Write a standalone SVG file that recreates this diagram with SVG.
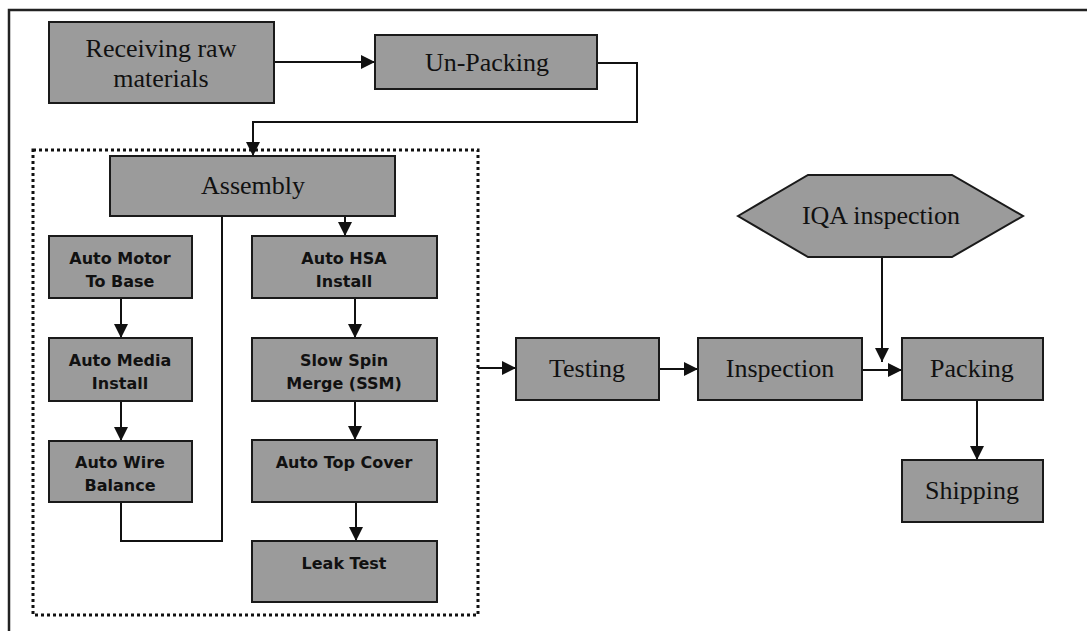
<svg xmlns="http://www.w3.org/2000/svg" width="1087" height="631" viewBox="0 0 1087 631">
<defs>
<marker id="ah" markerWidth="14" markerHeight="14" refX="14" refY="7" orient="auto" markerUnits="userSpaceOnUse">
<path d="M0,0 L14,7 L0,14 Z" fill="#111"/>
</marker>
<style>
.box{fill:#9b9b9b;stroke:#1a1a1a;stroke-width:2}
.st{font-family:"Liberation Serif",serif;font-size:26px;fill:#111;text-anchor:middle}
.bt{font-family:"DejaVu Sans",sans-serif;font-weight:bold;font-size:16px;fill:#111;text-anchor:middle}
.ln{fill:none;stroke:#111;stroke-width:2}
</style>
</defs>
<rect width="1087" height="631" fill="#fff"/>
<g id="frame">
<path d="M9,631 L9,10 L1087,10" fill="none" stroke="#222" stroke-width="2.5"/>
<rect x="33" y="150" width="445" height="465" fill="none" stroke="#111" stroke-width="3" stroke-dasharray="3 3"/>
</g>
<g id="connectors">
<path class="ln" d="M274,62 L375,62" marker-end="url(#ah)"/>
<path class="ln" d="M597,63 L637,63 L637,122 L253,122 L253,156" marker-end="url(#ah)"/>
<path class="ln" d="M222,216 L222,541 L121,541 L121,502"/>
<path class="ln" d="M345,216 L345,236" marker-end="url(#ah)"/>
<path class="ln" d="M121,298 L121,338" marker-end="url(#ah)"/>
<path class="ln" d="M121,401 L121,441" marker-end="url(#ah)"/>
<path class="ln" d="M355,298 L355,338" marker-end="url(#ah)"/>
<path class="ln" d="M355,401 L355,440" marker-end="url(#ah)"/>
<path class="ln" d="M356,495 L356,541" marker-end="url(#ah)"/>
<path class="ln" d="M478,368 L516,368" marker-end="url(#ah)"/>
<path class="ln" d="M659,369 L698,369" marker-end="url(#ah)"/>
<path class="ln" d="M862,370 L902,370" marker-end="url(#ah)"/>
<path class="ln" d="M882,257 L882,362" marker-end="url(#ah)"/>
<path class="ln" d="M977,400 L977,460" marker-end="url(#ah)"/>
</g>
<g id="receiving">
<rect class="box" x="49" y="22" width="225" height="81"/>
<text class="st" x="161" y="57">Receiving raw</text>
<text class="st" x="161" y="87">materials</text>
</g>
<g id="unpacking">
<rect class="box" x="375" y="35" width="222" height="54"/>
<text class="st" x="487" y="71">Un-Packing</text>
</g>
<g id="assembly">
<rect class="box" x="110" y="156" width="285" height="60"/>
<text class="st" x="253" y="194">Assembly</text>
</g>
<g id="motor">
<rect class="box" x="49" y="236" width="143" height="62"/>
<text class="bt" x="120" y="264">Auto Motor</text>
<text class="bt" x="120" y="287">To Base</text>
</g>
<g id="media">
<rect class="box" x="49" y="338" width="143" height="63"/>
<text class="bt" x="120" y="366">Auto Media</text>
<text class="bt" x="120" y="389">Install</text>
</g>
<g id="wire">
<rect class="box" x="49" y="441" width="143" height="61"/>
<text class="bt" x="120" y="468">Auto Wire</text>
<text class="bt" x="120" y="491">Balance</text>
</g>
<g id="hsa">
<rect class="box" x="252" y="236" width="185" height="62"/>
<text class="bt" x="344" y="264">Auto HSA</text>
<text class="bt" x="344" y="287">Install</text>
</g>
<g id="ssm">
<rect class="box" x="252" y="338" width="185" height="63"/>
<text class="bt" x="344" y="366">Slow Spin</text>
<text class="bt" x="344" y="389">Merge (SSM)</text>
</g>
<g id="topcover">
<rect class="box" x="252" y="440" width="185" height="62"/>
<text class="bt" x="344" y="468">Auto Top Cover</text>
</g>
<g id="leak">
<rect class="box" x="252" y="541" width="185" height="61"/>
<text class="bt" x="344" y="569">Leak Test</text>
</g>
<g id="testing">
<rect class="box" x="516" y="338" width="143" height="62"/>
<text class="st" x="587" y="377">Testing</text>
</g>
<g id="inspection">
<rect class="box" x="698" y="338" width="164" height="62"/>
<text class="st" x="780" y="377">Inspection</text>
</g>
<g id="iqa">
<polygon class="box" points="738,216 808,175 952,175 1023,216 952,257 808,257"/>
<text class="st" x="881" y="224">IQA inspection</text>
</g>
<g id="packing">
<rect class="box" x="902" y="338" width="141" height="62"/>
<text class="st" x="972" y="377">Packing</text>
</g>
<g id="shipping">
<rect class="box" x="902" y="460" width="141" height="62"/>
<text class="st" x="972" y="499">Shipping</text>
</g>
</svg>
